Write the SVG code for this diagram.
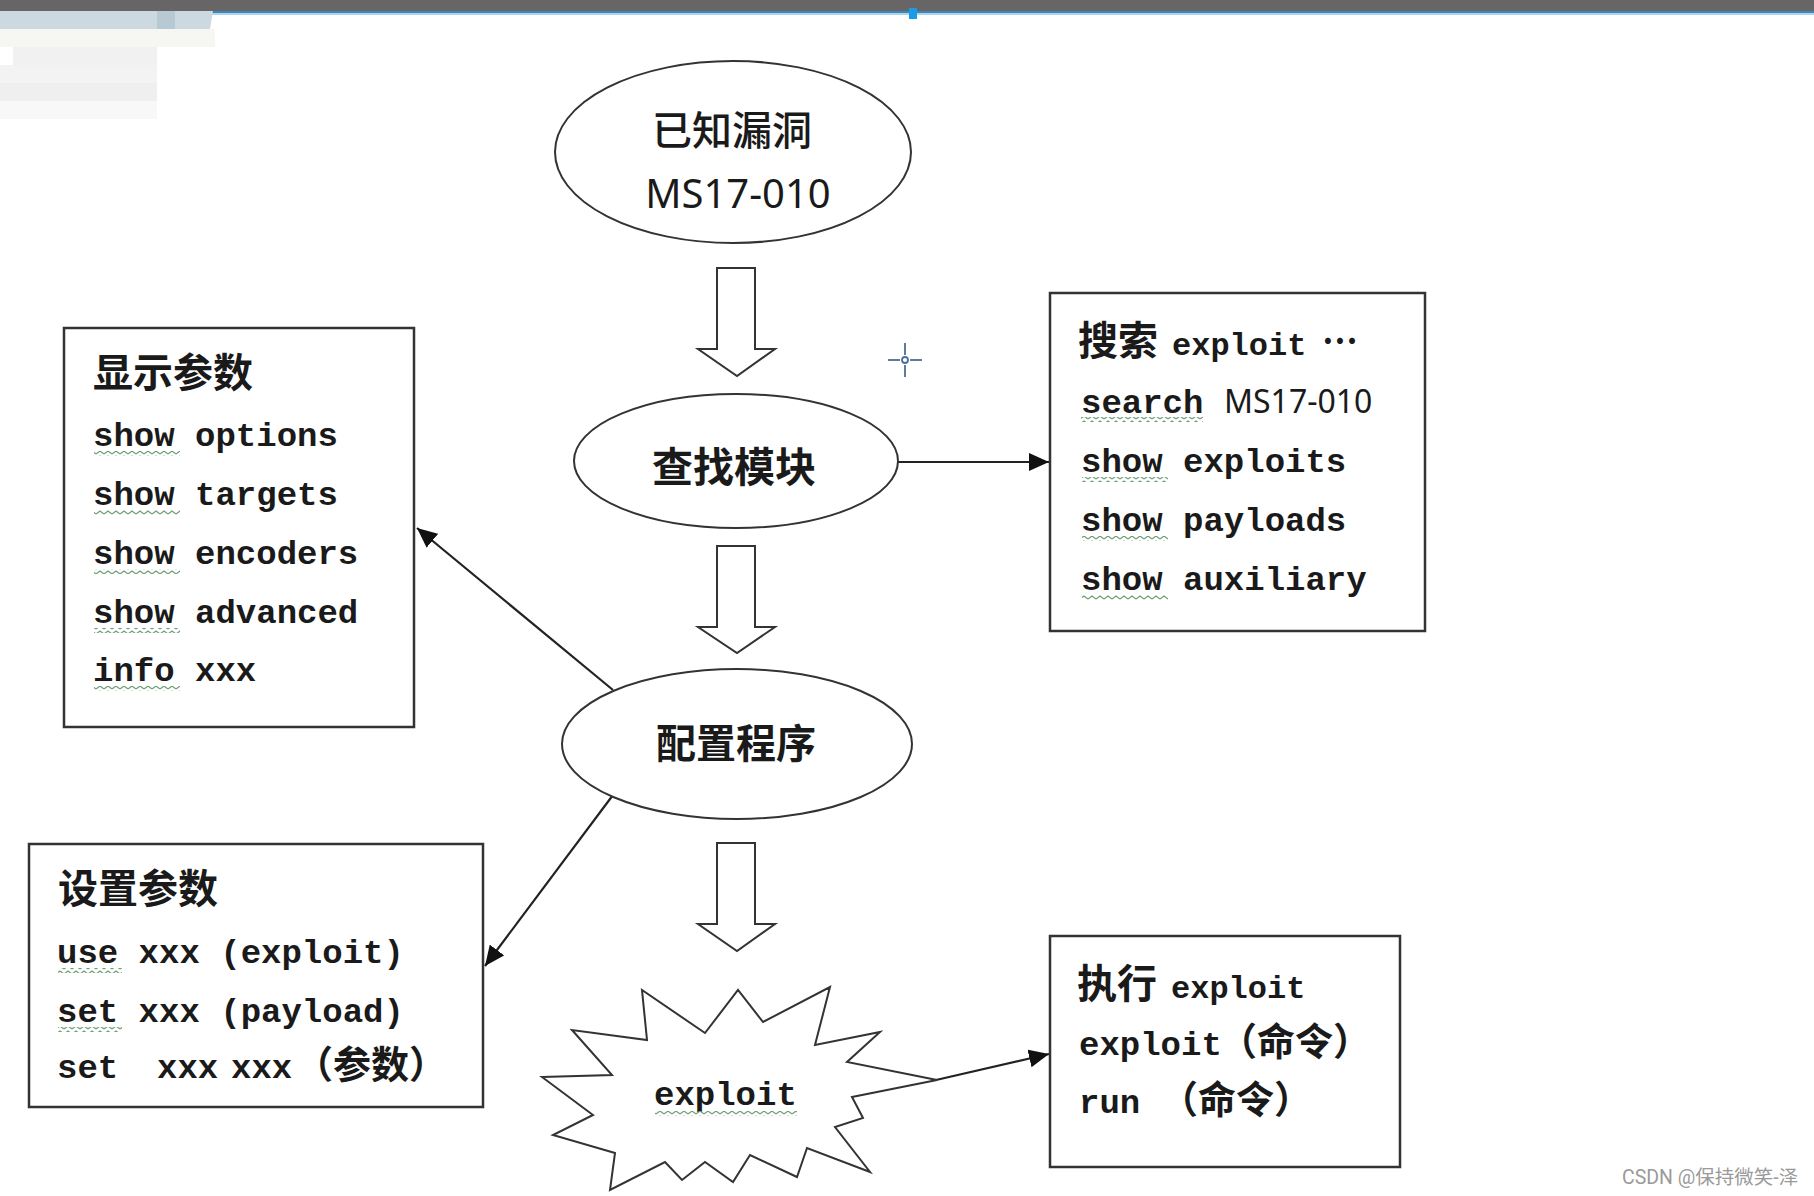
<svg xmlns="http://www.w3.org/2000/svg" width="1814" height="1196" viewBox="0 0 1814 1196">
<style>
.cjk{font-family:"Noto Sans CJK SC","Noto Sans",sans-serif;fill:#1a1a1a}
.mono{font-family:"Liberation Mono","Noto Sans CJK SC",monospace;font-weight:bold;fill:#1a1a1a}
.sans{font-family:"Noto Sans","Open Sans","Noto Sans CJK SC",sans-serif;fill:#1a1a1a}
.box{fill:#ffffff;stroke:#333333;stroke-width:2.5}
.ell{fill:#ffffff;stroke:#333333;stroke-width:2}
.blk{fill:#ffffff;stroke:#333333;stroke-width:2;stroke-linejoin:miter}
.con{fill:none;stroke:#222222;stroke-width:2.2}
.sq{fill:url(#squig)}
</style>
<defs>
<marker id="ah" markerUnits="userSpaceOnUse" markerWidth="22" markerHeight="18" refX="20" refY="9" orient="auto">
<path d="M0,0 L20,9 L0,18 z" fill="#111111"/>
</marker>
<pattern id="squig" patternUnits="userSpaceOnUse" width="8" height="5">
<path d="M0,4 L4,1 L8,4" fill="none" stroke="#6f9f74" stroke-width="1.3"/>
</pattern>
</defs>
<rect width="1814" height="1196" fill="#ffffff"/>
<!-- screen chrome -->
<g id="chrome">
<rect x="0" y="0" width="1814" height="11" fill="#676565"/>
<rect x="0" y="11" width="1814" height="2" fill="#3f86b8"/>
<rect x="0" y="13" width="1814" height="2" fill="#a9d6ee"/>
<path d="M0,11 L213,11 L210,29 L0,29 z" fill="#cdd9e0"/>
<rect x="157" y="11" width="18" height="18" fill="#b7c9d3"/>
<rect x="909" y="8" width="8" height="11" fill="#1a9be8"/>
<rect x="0" y="29" width="215" height="18" fill="#f6f6f3"/>
<rect x="13" y="47" width="144" height="18" fill="#f1f1f1"/>
<rect x="0" y="65" width="157" height="18" fill="#f3f3f3"/>
<rect x="0" y="83" width="157" height="18" fill="#efefef"/>
<rect x="0" y="101" width="157" height="18" fill="#f8f8f8"/>
<g stroke="#4c6f94" stroke-width="1.8">
<line x1="888" y1="360" x2="900" y2="360"/>
<line x1="910" y1="360" x2="922" y2="360"/>
<line x1="905" y1="343" x2="905" y2="355"/>
<line x1="905" y1="365" x2="905" y2="377"/>
<circle cx="905" cy="360" r="3" fill="none"/>
</g>
</g>
<!-- connectors -->
<g id="connectors">
<path class="blk" d="M717,268 L755,268 L755,349 L775,349 L737,376 L698,349 L717,349 z"/>
<path class="blk" d="M717,546 L755,546 L755,627 L775,627 L737,653 L698,627 L717,627 z"/>
<path class="blk" d="M717,843 L755,843 L755,924 L775,924 L737,951 L698,924 L717,924 z"/>
<line class="con" x1="898" y1="462" x2="1049" y2="462" marker-end="url(#ah)"/>
<line class="con" x1="613" y1="690" x2="417" y2="528" marker-end="url(#ah)"/>
<line class="con" x1="613" y1="795" x2="485" y2="966" marker-end="url(#ah)"/>
<line class="con" x1="936" y1="1080" x2="1049" y2="1054" marker-end="url(#ah)"/>
</g>
<!-- nodes -->
<g id="known-vuln">
<ellipse class="ell" cx="733" cy="152" rx="178" ry="91"/>
<text class="cjk" x="732" y="145" font-size="40" font-weight="500" text-anchor="middle">已知漏洞</text>
<text class="sans" x="738" y="208" font-size="40" text-anchor="middle">MS17-010</text>
</g>
<g id="find-module">
<ellipse class="ell" cx="736" cy="461" rx="162" ry="67"/>
<text class="cjk" x="734" y="482" font-size="41" font-weight="bold" text-anchor="middle">查找模块</text>
</g>
<g id="configure">
<ellipse class="ell" cx="737" cy="744" rx="175" ry="75"/>
<text class="cjk" x="736" y="758" font-size="40" font-weight="bold" text-anchor="middle">配置程序</text>
</g>
<g id="exploit-burst">
<polygon class="ell" points="542,1077 612,1075 572,1030 647,1040 642,990 705,1033 738,990 763,1022 830,987 815,1045 880,1032 847,1062 937,1080 852,1097 863,1118 835,1127 870,1172 807,1148 797,1177 750,1155 733,1182 705,1162 682,1180 665,1162 610,1190 615,1153 553,1135 593,1115"/>
<text class="mono" x="654" y="1105" font-size="34">exploit</text>
<rect class="sq" x="655" y="1111" width="142" height="5"/>
</g>
<g id="show-params">
<rect class="box" x="64" y="328" width="350" height="399"/>
<text class="cjk" x="93" y="387" font-size="40" font-weight="bold">显示参数</text>
<text class="mono" x="93" y="446" font-size="34">show options</text>
<text class="mono" x="93" y="505" font-size="34">show targets</text>
<text class="mono" x="93" y="564" font-size="34">show encoders</text>
<text class="mono" x="93" y="623" font-size="34">show advanced</text>
<text class="mono" x="93" y="681" font-size="34">info xxx</text>
<rect class="sq" x="94" y="451" width="86" height="5"/>
<rect class="sq" x="94" y="510" width="86" height="5"/>
<rect class="sq" x="94" y="569" width="86" height="5"/>
<rect class="sq" x="94" y="628" width="86" height="5"/>
<rect class="sq" x="94" y="686" width="86" height="5"/>
</g>
<g id="search-box">
<rect class="box" x="1050" y="293" width="375" height="338"/>
<text x="1078" y="355"><tspan class="cjk" font-size="40" font-weight="bold">搜索</tspan><tspan class="mono" x="1172" font-size="32">exploit</tspan><tspan class="cjk" x="1322" dy="-11" font-size="32" font-weight="bold">…</tspan></text>
<text x="1081" y="413"><tspan class="mono" font-size="34">search</tspan><tspan class="sans" x="1224" font-size="32">MS17-010</tspan></text>
<text class="mono" x="1081" y="472" font-size="34">show exploits</text>
<text class="mono" x="1081" y="531" font-size="34">show payloads</text>
<text class="mono" x="1081" y="590" font-size="34">show auxiliary</text>
<rect class="sq" x="1081" y="417" width="122" height="5"/>
<rect class="sq" x="1082" y="477" width="86" height="5"/>
<rect class="sq" x="1082" y="536" width="86" height="5"/>
<rect class="sq" x="1082" y="595" width="86" height="5"/>
</g>
<g id="set-params">
<rect class="box" x="29" y="844" width="454" height="263"/>
<text class="cjk" x="58" y="903" font-size="40" font-weight="bold">设置参数</text>
<text class="mono" x="57" y="963" font-size="34">use xxx (exploit)</text>
<text class="mono" x="57" y="1022" font-size="34">set xxx (payload)</text>
<text y="1078"><tspan class="mono" x="57" font-size="34">set</tspan><tspan class="mono" x="157" font-size="34">xxx</tspan><tspan class="mono" x="231" font-size="34">xxx</tspan><tspan class="cjk" x="295" font-size="38" font-weight="bold">（参数）</tspan></text>
<rect class="sq" x="58" y="968" width="64" height="5"/>
<rect class="sq" x="58" y="1027" width="64" height="5"/>
</g>
<g id="run-box">
<rect class="box" x="1050" y="936" width="350" height="231"/>
<text x="1077" y="998"><tspan class="cjk" font-size="40" font-weight="bold">执行</tspan><tspan class="mono" x="1171" font-size="32">exploit</tspan></text>
<text x="1079" y="1055"><tspan class="mono" font-size="34">exploit</tspan><tspan class="cjk" x="1219" font-size="38" font-weight="bold">（命令）</tspan></text>
<text x="1079" y="1113"><tspan class="mono" font-size="34">run</tspan><tspan class="cjk" x="1160" font-size="38" font-weight="bold">（命令）</tspan></text>
</g>
<g id="watermark">
<text x="1622" y="1184" font-family="Roboto,'Noto Sans CJK SC',sans-serif" font-size="19.5" fill="#9a9a9a">CSDN @保持微笑-泽</text>
</g>
</svg>
